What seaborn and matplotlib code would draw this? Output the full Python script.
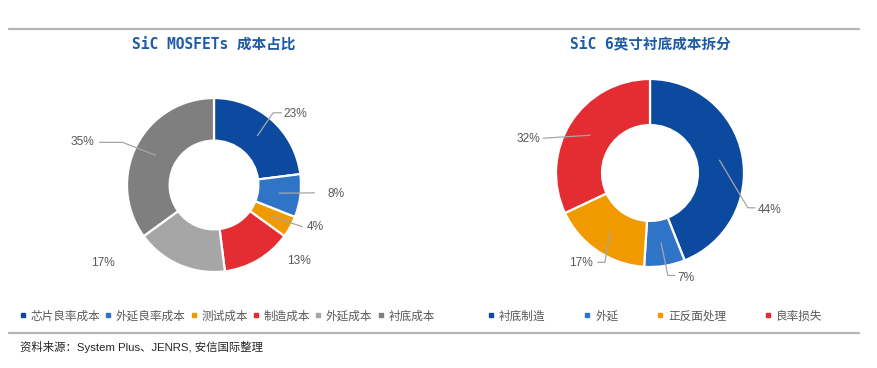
import matplotlib
matplotlib.use('Agg')
import matplotlib.pyplot as plt
import seaborn as sns
import numpy as np
from matplotlib.lines import Line2D

# ---------------- data ----------------
left_title = "SiC MOSFETs 成本占比"
left_labels = ["芯片良率成本", "外延良率成本", "测试成本", "制造成本", "外延成本", "衬底成本"]
left_values = [23, 8, 4, 13, 17, 35]

right_title = "SiC 6英寸衬底成本拆分"
right_labels = ["衬底制造", "外延", "正反面处理", "良率损失"]
right_values = [44, 7, 17, 32]

source_text = "资料来源：System Plus、JENRS, 安信国际整理"

# ---------------- style ----------------
DARK_BLUE = "#0B4A9E"
MID_BLUE = "#2F74C6"
ORANGE = "#F19A00"
RED = "#E32D33"
LIGHT_GRAY = "#A6A6A6"
DARK_GRAY = "#7F7F7F"
left_colors = [DARK_BLUE, MID_BLUE, ORANGE, RED, LIGHT_GRAY, DARK_GRAY]
right_colors = [DARK_BLUE, MID_BLUE, ORANGE, RED]

TITLE_COLOR = "#1D5BA6"
LABEL_COLOR = "#595959"
LEADER_COLOR = "#A6A6A6"

# label placement (in units of the donut radius): text position, alignment, leader bends
left_label_style = [
    dict(xy=(0.80, 0.82), ha="left", path=[(0.68, 0.83), (0.78, 0.83)]),
    dict(xy=(1.30, -0.10), ha="left", path=[(1.16, -0.09)]),
    dict(xy=(1.07, -0.48), ha="left", path=[(1.02, -0.48)]),
    dict(xy=(0.84, -0.87), ha="left", path=None),
    dict(xy=(-1.28, -0.90), ha="center", path=None),
    dict(xy=(-1.37, 0.49), ha="right", path=[(-1.05, 0.49), (-1.32, 0.49)]),
]
right_label_style = [
    dict(xy=(1.15, -0.39), ha="left", path=[(1.04, -0.37), (1.12, -0.37)]),
    dict(xy=(0.29, -1.12), ha="left", path=[(0.19, -1.09), (0.27, -1.09)]),
    dict(xy=(-0.61, -0.96), ha="right", path=[(-0.48, -0.95), (-0.56, -0.95)]),
    dict(xy=(-1.17, 0.36), ha="right", path=[(-1.14, 0.37)]),
]

sns.set_theme(style="white")
plt.rcParams['font.family'] = ['Liberation Sans', 'Noto Sans CJK SC', 'DejaVu Sans']

W, H = 877, 368
fig = plt.figure(figsize=(W / 100, H / 100), dpi=100)
fig.patch.set_facecolor("white")

HW, HH = 2.0, 1.35


def px_axes(cx, cy, r):
    # axes spanning [-2r, 2r] x [-1.35r, 1.35r] around the pixel centre (cx, cy)
    rect = [(cx - HW * r) / W, (H - cy - HH * r) / H, 2 * HW * r / W, 2 * HH * r / H]
    ax = fig.add_axes(rect)
    return ax


def donut(ax, values, colors, styles):
    wedges, _ = ax.pie(values, colors=colors, startangle=90, counterclock=False,
                       radius=1.0,
                       wedgeprops=dict(width=0.49, edgecolor="white", linewidth=1.6))
    ax.set_xlim(-HW, HW)
    ax.set_ylim(-HH, HH)
    ax.set_axis_off()
    total = float(sum(values))
    for w, v, st in zip(wedges, values, styles):
        mid = np.deg2rad((w.theta1 + w.theta2) / 2.0)
        start = (0.75 * np.cos(mid), 0.75 * np.sin(mid))
        if st["path"]:
            pts = [start] + st["path"]
            xs, ys = zip(*pts)
            ax.plot(xs, ys, color=LEADER_COLOR, lw=0.9, solid_capstyle="butt")
        ax.text(st["xy"][0], st["xy"][1], f"{v / total * 100:.0f}%", ha=st["ha"], va="center",
                fontsize=8.6, color=LABEL_COLOR, family=["Liberation Sans", "DejaVu Sans"])


ax_l = px_axes(214, 185, 87)
donut(ax_l, left_values, left_colors, left_label_style)
ax_r = px_axes(650, 173, 94)
donut(ax_r, right_values, right_colors, right_label_style)

title_font = ["DejaVu Sans Mono", "Noto Sans CJK SC"]
fig.text(214 / W, 1 - 44 / H, left_title, ha="center", va="center", fontsize=10.5,
         fontweight="bold", color=TITLE_COLOR, family=title_font)
fig.text(650 / W, 1 - 44 / H, right_title, ha="center", va="center", fontsize=10.5,
         fontweight="bold", color=TITLE_COLOR, family=title_font)

# separator lines
for yy in (29, 333):
    fig.add_artist(Line2D([9 / W, 859 / W], [1 - yy / H] * 2, color="#B4B4B4", lw=1.6,
                          transform=fig.transFigure))


def legend(labels, colors, cx, spacing):
    handles = [Line2D([], [], marker="s", linestyle="none", markersize=3.2,
                      markerfacecolor=c, markeredgecolor=c) for c in colors]
    lg = fig.legend(handles, labels, loc="center", bbox_to_anchor=(cx / W, 1 - 316 / H),
                    ncol=len(labels), frameon=False, handlelength=0.6, handletextpad=0.35,
                    columnspacing=spacing, borderaxespad=0, borderpad=0,
                    prop=dict(family=["Noto Sans CJK SC"], size=8.4))
    for t in lg.get_texts():
        t.set_color(LABEL_COLOR)
    return lg


legend(left_labels, left_colors, 227, 0.4)
legend(right_labels, right_colors, 655, 3.3)

fig.text(20 / W, 1 - 347 / H, source_text, ha="left", va="center", fontsize=8.2,
         color="#262626", family=["Liberation Sans", "Noto Sans CJK SC"])

fig.savefig("out.png", dpi=100)
